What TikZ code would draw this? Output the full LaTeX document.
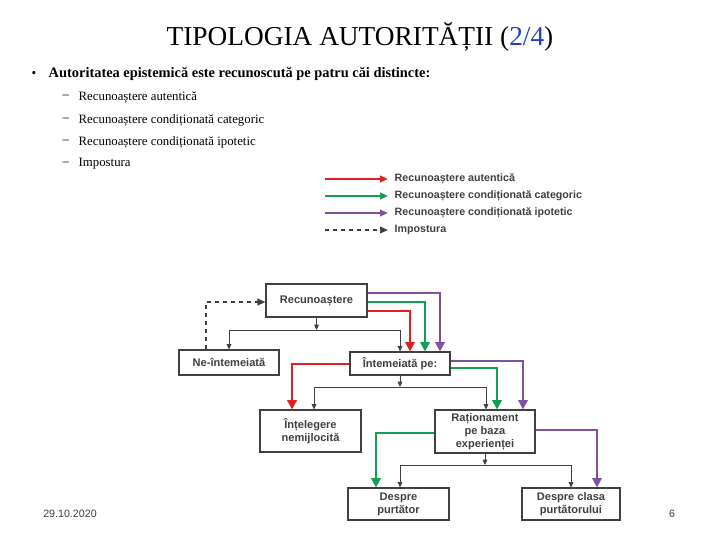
\documentclass[tikz,border=0pt]{standalone}
\usepackage{fontspec}
\setmainfont{Liberation Serif}
\setsansfont{Liberation Sans}
\usetikzlibrary{arrows.meta}
\definecolor{rd}{HTML}{E02020}
\definecolor{gn}{HTML}{10A050}
\definecolor{pu}{HTML}{8050A0}
\definecolor{gy}{HTML}{404040}
\definecolor{bl}{HTML}{2040C0}
\begin{document}
\begin{tikzpicture}[x=0.75pt,y=-0.75pt,
  box/.style={draw=gy,line width=0.8pt,fill=white,font=\sffamily\bfseries\fontsize{8.3}{9.8}\selectfont,text=gy,align=center,inner sep=0pt},
  gl/.style={draw=gy,line width=0.7pt,-{Triangle[length=4pt,width=3.5pt]}},
  gp/.style={draw=gy,line width=0.7pt},
  cl/.style={line width=1.6pt,-{Triangle[length=7pt,width=7pt]}},
  lg/.style={font=\sffamily\bfseries\fontsize{8}{9}\selectfont,text=gy,anchor=west}]
\useasboundingbox (0,0) rectangle (720,540);
\node[font=\fontsize{20.5}{24}\selectfont] (t) at (360,37) {TIPOLOGIA AUTORITĂȚII (\textcolor{bl}{2/4})};
\node[anchor=west] (b) at (27,74) {•};
\node[anchor=west,font=\bfseries\fontsize{10.8}{13}\selectfont] (bt) at (44,74) {Autoritatea epistemică este recunoscută pe patru căi distincte:};
\foreach \yy/\tt [count=\i] in {97/Recunoaștere autentică,120/Recunoaștere condiționată categoric,142/Recunoaștere condiționată ipotetic,164/Impostura}{
  \node[anchor=west,font=\fontsize{9.6}{12}\selectfont] (d\i) at (58,\yy) {–};
  \node[anchor=west,font=\fontsize{9.6}{12}\selectfont] (s\i) at (74,\yy) {\tt};}
% legend
\coordinate (la1) at (325,179); \coordinate (lb1) at (388,179);
\coordinate (la2) at (325,196); \coordinate (lb2) at (388,196);
\coordinate (la3) at (325,213); \coordinate (lb3) at (388,213);
\coordinate (la4) at (325,230); \coordinate (lb4) at (388,230);
\draw[rd,line width=1.4pt,-{Triangle[length=6pt,width=5pt]}] (la1)--(lb1);
\draw[gn,line width=1.4pt,-{Triangle[length=6pt,width=5pt]}] (la2)--(lb2);
\draw[pu,line width=1.4pt,-{Triangle[length=6pt,width=5pt]}] (la3)--(lb3);
\draw[gy,line width=1.2pt,dashed,-{Triangle[length=6pt,width=5pt]}] (la4)--(lb4);
\node[lg] (l1) at (390,179) {Recunoaștere autentică};
\node[lg] (l2) at (390,196) {Recunoaștere condiționată categoric};
\node[lg] (l3) at (390,213) {Recunoaștere condiționată ipotetic};
\node[lg] (l4) at (390,230) {Impostura};
% boxes
\node[box,minimum width=101*0.75pt,minimum height=33*0.75pt] (R) at (316.5,300.5) {Recunoaștere};
\node[box,minimum width=100*0.75pt,minimum height=25*0.75pt] (N) at (229,362.5) {Ne-întemeiată};
\node[box,minimum width=100*0.75pt,minimum height=23*0.75pt] (I) at (400,363.5) {Întemeiată pe:};
\node[box,minimum width=101*0.75pt,minimum height=42*0.75pt] (U) at (310.5,431) {Înțelegere\\nemijlocită};
\node[box,minimum width=100*0.75pt,minimum height=43*0.75pt] (A) at (485,431.5) {Raționament\\pe baza\\experienței};
\node[box,minimum width=101*0.75pt,minimum height=32*0.75pt] (P) at (398.5,504) {Despre\\purtător};
\node[box,minimum width=98*0.75pt,minimum height=32*0.75pt] (C) at (571,504) {Despre clasa\\purtătorului};
% gray tree connectors
\coordinate (r0) at (316.5,330); \coordinate (i0) at (400,387); \coordinate (a0) at (485,465);
\draw[gl] (R.south)--(r0);
\draw[gp] (229,330)--(400,330);
\draw[gl] (229,330)--(N.north);
\draw[gl] (400,330)--(I.north);
\draw[gl] (I.south)--(i0);
\draw[gp] (314,387)--(486,387);
\draw[gl] (314,387)--(U.north-|314,0);
\draw[gl] (486,387)--(A.north-|486,0);
\draw[gl] (A.south)--(a0);
\draw[gp] (400,465)--(571,465);
\draw[gl] (400,465)--(P.north-|400,0);
\draw[gl] (571,465)--(C.north-|571,0);
% dashed
\draw[gy,line width=1.2pt,dashed,-{Triangle[length=6pt,width=5pt]}] (N.north-|206,0) |- (R.west|-0,302);
% coloured
\draw[cl,rd] (R.east|-0,311) -| (I.north-|410,0);
\draw[cl,gn] (R.east|-0,302) -| (I.north-|425,0);
\draw[cl,pu] (R.east|-0,293) -| (I.north-|440,0);
\draw[cl,rd] (I.west|-0,364) -| (U.north-|292,0);
\draw[cl,gn] (I.east|-0,368) -| (A.north-|497,0);
\draw[cl,pu] (I.east|-0,361) -| (A.north-|523,0);
\draw[cl,gn] (A.west|-0,433) -| (P.north-|376,0);
\draw[cl,pu] (A.east|-0,430) -| (C.north-|597,0);
% footer
\node[font=\sffamily\fontsize{8}{9}\selectfont,text=gy] (f1) at (70,514) {29.10.2020};
\node[font=\sffamily\fontsize{8}{9}\selectfont,text=gy] (f2) at (672,514) {6};
\end{tikzpicture}
\end{document}
